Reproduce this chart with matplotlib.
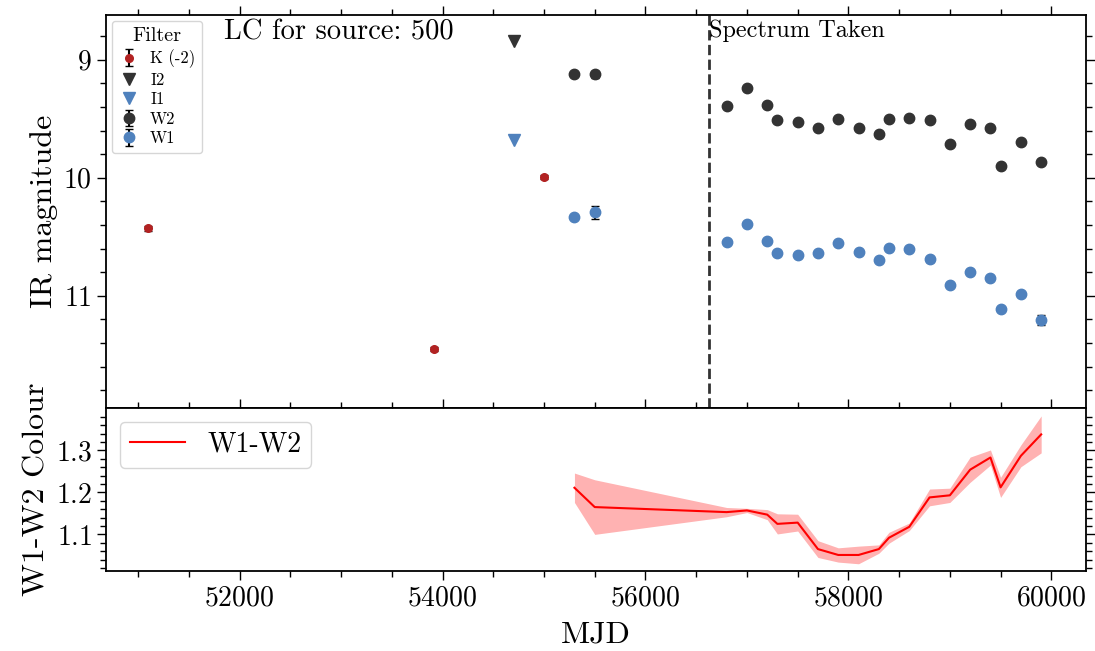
import matplotlib
matplotlib.use("Agg")
import matplotlib.pyplot as plt
import numpy as np

plt.rcParams['font.family'] = ['cmr10', 'DejaVu Serif']
plt.rcParams['mathtext.fontset'] = 'cm'
plt.rcParams['axes.formatter.use_mathtext'] = True
plt.rcParams['axes.unicode_minus'] = False

# K band (already shifted by -2)
k_mjd = [51100, 53914, 55000]
k_mag = [10.427, 11.449, 9.994]
k_err = [0.02, 0.015, 0.015]

# IRAC
i2_mjd = [54700]
i2_mag = [8.84]
i1_mjd = [54700]
i1_mag = [9.68]

# WISE
w_mjd = [55300, 55500, 56800, 57000, 57200, 57300, 57500, 57700, 57900, 58100,
         58300, 58400, 58600, 58800, 59000, 59200, 59400, 59500, 59700, 59900]
w2_mag = [9.119, 9.124, 9.39, 9.235, 9.384, 9.514, 9.523, 9.574, 9.503, 9.574,
          9.63, 9.50, 9.489, 9.506, 9.712, 9.545, 9.574, 9.898, 9.697, 9.870]
w2_err = [0.008, 0.03, 0.008, 0.008, 0.008, 0.008, 0.008, 0.008, 0.008, 0.008,
          0.008, 0.008, 0.008, 0.008, 0.008, 0.008, 0.008, 0.008, 0.008, 0.008]
w1_mag = [10.328, 10.291, 10.542, 10.392, 10.534, 10.638, 10.65, 10.638, 10.553, 10.625,
          10.695, 10.593, 10.604, 10.692, 10.904, 10.797, 10.853, 11.11, 10.983, 11.203]
w1_err = [0.01, 0.056, 0.008, 0.008, 0.008, 0.008, 0.008, 0.008, 0.008, 0.008,
          0.008, 0.008, 0.008, 0.018, 0.008, 0.008, 0.008, 0.008, 0.008, 0.04]

# W1-W2 colour
col = [1.211, 1.165, 1.153, 1.157, 1.147, 1.125, 1.128, 1.065, 1.051, 1.051,
       1.065, 1.092, 1.118, 1.188, 1.193, 1.254, 1.283, 1.212, 1.287, 1.338]
col_err = [0.035, 0.065, 0.011, 0.005, 0.012, 0.024, 0.02, 0.02, 0.017, 0.021,
           0.01, 0.013, 0.009, 0.02, 0.017, 0.03, 0.018, 0.024, 0.026, 0.044]

spec_mjd = 56624
source = 500

dark = '#333333'
blue = '#4f81bd'
red = '#b22222'

fig = plt.figure(figsize=(10.95, 6.51), dpi=100)
gs = fig.add_gridspec(2, 1, height_ratios=[393, 163], hspace=0,
                      left=0.0968, right=0.9918, top=0.977, bottom=0.123)
ax1 = fig.add_subplot(gs[0])
ax2 = fig.add_subplot(gs[1], sharex=ax1)

hk = ax1.errorbar(k_mjd, k_mag, yerr=k_err, fmt='o', color=red, ms=5.5, ecolor='k',
                  capsize=3, elinewidth=1.5, label='K (-2)')
hi2, = ax1.plot(i2_mjd, i2_mag, 'v', color=dark, ms=8, label='I2')
hi1, = ax1.plot(i1_mjd, i1_mag, 'v', color=blue, ms=8, label='I1')
hw2 = ax1.errorbar(w_mjd, w2_mag, yerr=w2_err, fmt='o', color=dark, ms=7.5, ecolor='k',
                   capsize=3, elinewidth=1.5, label='W2')
hw1 = ax1.errorbar(w_mjd, w1_mag, yerr=w1_err, fmt='o', color=blue, ms=7.5, ecolor='k',
                   capsize=3, elinewidth=1.5, label='W1')

ax1.axvline(spec_mjd, color=dark, ls='--', lw=2)
ax1.text(spec_mjd, 8.655, 'Spectrum Taken', fontsize=17.5, ha='left', va='top')
ax1.text(0.12, 0.955, 'LC for source: {}'.format(source), transform=ax1.transAxes,
         fontsize=20.5, ha='left', va='center')

ax1.set_yticks([9, 10, 11])
ax1.set_yticks(np.arange(8.8, 12.0, 0.2), minor=True)
ax1.set_ylim(11.95, 8.62)
ax1.set_ylabel('IR magnitude', fontsize=23)
ax1.legend([hk, hi2, hi1, hw2, hw1], ['K (-2)', 'I2', 'I1', 'W2', 'W1'],
           title='Filter', loc='upper left', fontsize=12, title_fontsize=14.5,
           frameon=True, fancybox=True, edgecolor='0.8', borderaxespad=0.35,
           borderpad=0.4, handletextpad=0.6, handlelength=1.3, labelspacing=0.25)

ax1.tick_params(labelbottom=False)

ax2.plot(w_mjd, col, color='red', lw=1.5, label='W1-W2')
lo = [c - e for c, e in zip(col, col_err)]
hi = [c + e for c, e in zip(col, col_err)]
ax2.fill_between(w_mjd, lo, hi, color='red', alpha=0.3, lw=0)
ax2.set_yticks([1.1, 1.2, 1.3])
ax2.set_yticks(np.arange(1.02, 1.40, 0.02), minor=True)
ax2.set_ylim(1.013, 1.401)
ax2.set_ylabel('W1-W2 Colour', fontsize=23)
ax2.set_xlabel('MJD', fontsize=23, labelpad=7)
ax2.legend(loc='upper left', fontsize=20, frameon=True, fancybox=True,
           edgecolor='0.8', handlelength=2.0, borderpad=0.35)

ax2.set_xticks([52000, 54000, 56000, 58000, 60000])
ax2.set_xticks(np.arange(50500, 60500, 500), minor=True)
ax2.set_xlim(50683, 60342)

for ax in (ax1, ax2):
    ax.tick_params(which='both', direction='out', top=True, right=True,
                   labelsize=20, width=1)
    ax.tick_params(which='major', length=6.5)
    ax.tick_params(which='minor', length=4)
    for s in ax.spines.values():
        s.set_linewidth(1.3)

fig.savefig('out.png', dpi=100)
